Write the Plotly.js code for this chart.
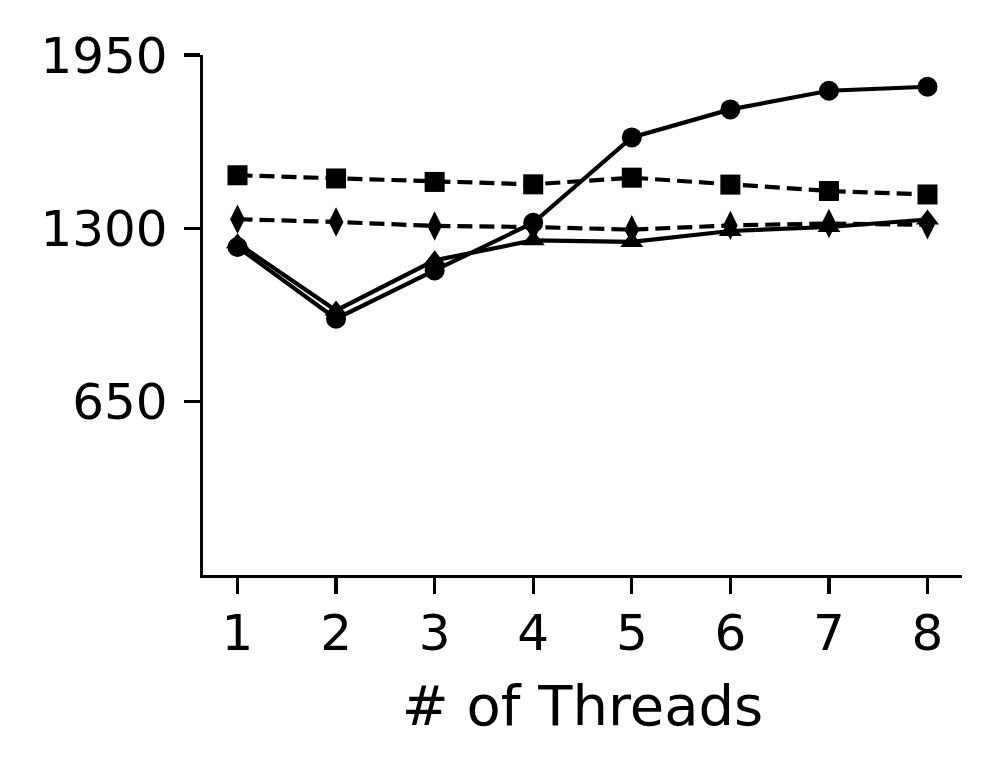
<!DOCTYPE html>
<html>
<head>
<meta charset="utf-8">
<script src="https://cdn.plot.ly/plotly-3.0.1.min.js"></script>
<style>html,body{margin:0;padding:0;background:#fff;}#chart{width:999px;height:773px;}</style>
</head>
<body>
<div id="chart"></div>
<script>
const threads = [1, 2, 3, 4, 5, 6, 7, 8];
const seriesCircle = [1230, 961, 1142, 1321, 1641, 1746, 1816, 1831];
const seriesTriangle = [1244, 992, 1180, 1255, 1249, 1290, 1305, 1333];
const seriesSquare = [1499, 1487, 1474, 1465, 1490, 1464, 1440, 1427];
const seriesDiamond = [1334, 1324, 1309, 1305, 1295, 1311, 1318, 1313];
const yTicks = [650, 1300, 1950];

function tr(y, symbol, size, dash) {
  return {
    x: threads, y: y, type: 'scatter', mode: 'lines+markers',
    line: {color: '#000', width: 4.2, dash: dash},
    marker: {symbol: symbol, size: size, color: '#000', line: {width: 0}},
    showlegend: false, hoverinfo: 'skip'
  };
}

const data = [
  tr(seriesSquare, 'square', 20, '15px,7px'),
  tr(seriesDiamond, 'diamond-tall', 21, '15px,7px'),
  tr(seriesTriangle, 'triangle-up', 20, 'solid'),
  tr(seriesCircle, 'circle', 20, 'solid')
];

const fnt = {family: 'DejaVu Sans', size: 50, color: '#000'};
const titleFnt = {family: 'DejaVu Sans', size: 56, color: '#000'};
const layout = {
  width: 999, height: 773,
  margin: {l: 203, r: 37, t: 55, b: 198, pad: 0},
  paper_bgcolor: '#fff', plot_bgcolor: '#fff',
  font: fnt,
  xaxis: {
    range: [0.65, 8.35], tickvals: threads, ticktext: threads.map(String),
    showgrid: false, zeroline: false, showline: true, linecolor: '#000', linewidth: 3.3,
    ticks: 'outside', ticklen: 16, tickwidth: 3.3, tickcolor: '#000',
    tickfont: fnt, ticklabelstandoff: -4,
    title: {text: '# of Threads', font: titleFnt, standoff: 25}
  },
  yaxis: {
    range: [0, 1950], tickvals: yTicks, ticktext: yTicks.map(String),
    showgrid: false, zeroline: false, showline: true, linecolor: '#000', linewidth: 3.3,
    ticks: 'outside', ticklen: 16, tickwidth: 3.3, tickcolor: '#000',
    tickfont: fnt, ticklabelstandoff: 6
  }
};

Plotly.newPlot('chart', data, layout, {displayModeBar: false, staticPlot: true});
</script>
</body>
</html>
